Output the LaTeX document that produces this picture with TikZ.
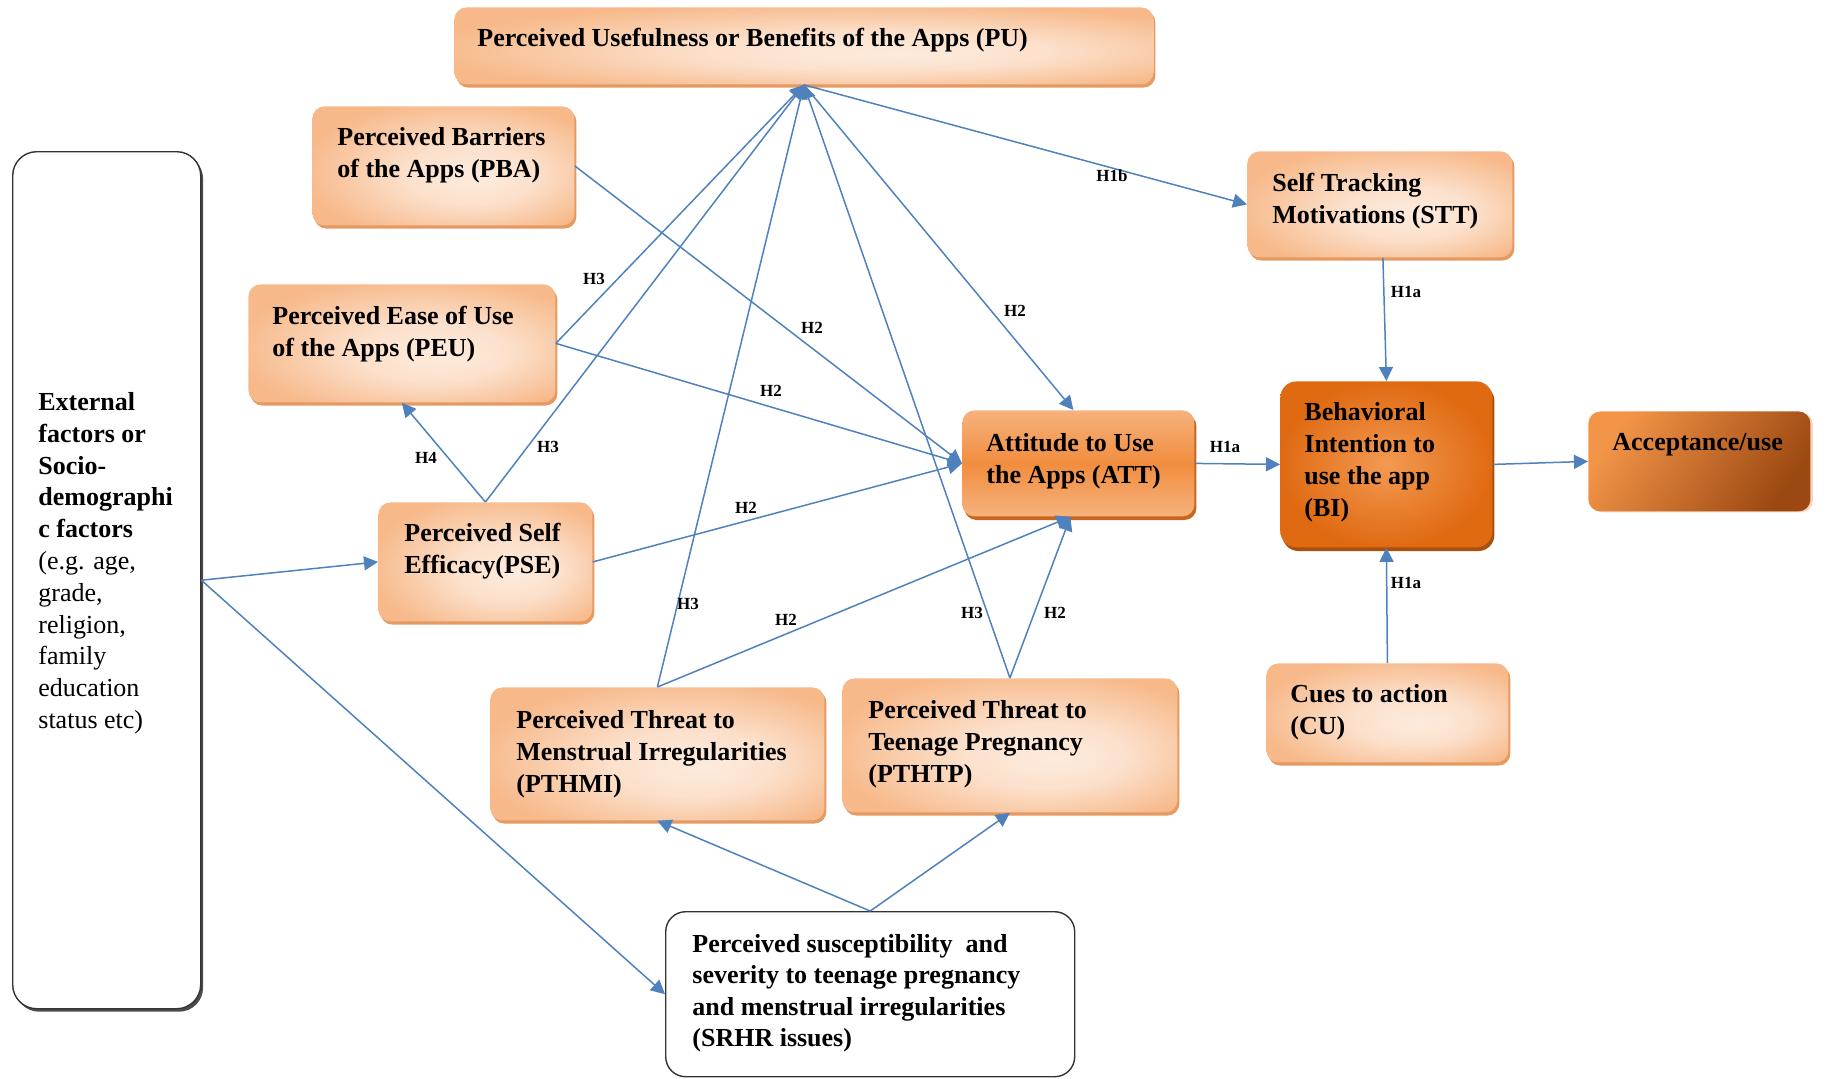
\documentclass[tikz,border=0pt]{standalone}
\usepackage{fontspec}
\setmainfont{Liberation Serif}
\usetikzlibrary{arrows.meta,shadows,calc}

\definecolor{pkD}{HTML}{F7B98A}
\definecolor{pkL}{HTML}{FDEBDD}
\definecolor{pkS}{HTML}{E59A62}
\definecolor{attT}{HTML}{F7B27E}
\definecolor{attM}{HTML}{F18D3E}
\definecolor{attS}{HTML}{C8661E}
\definecolor{biC}{HTML}{F39A52}
\definecolor{biO}{HTML}{E06A12}
\definecolor{biS}{HTML}{A9500E}
\definecolor{acA}{HTML}{F39548}
\definecolor{acB}{HTML}{9C4812}
\definecolor{lineblue}{HTML}{4F81BD}

% light peach fill: broad pale area right of centre, fading to peach at the rim
\pgfdeclareradialshading{peachshade}{\pgfpoint{7bp}{-5bp}}{color(0bp)=(pkL); color(12bp)=(pkL!80!pkD); color(30bp)=(pkD); color(50bp)=(pkD)}
\pgfdeclareverticalshading{attshade}{100bp}{color(0bp)=(attT); color(25bp)=(attT); color(50bp)=(attM); color(75bp)=(attT); color(100bp)=(attT)}
\pgfdeclarehorizontalshading{accshade}{100bp}{color(0bp)=(acA); color(25bp)=(acA); color(75bp)=(acB); color(100bp)=(acB)}

\tikzset{
  lightbox/.style={rounded corners=6pt, shading=peachshade,
    draw=none, inner sep=0pt,
    drop shadow={shadow xshift=1pt, shadow yshift=-1.6pt, fill=pkS, opacity=1}},
  attbox/.style={rounded corners=6pt, shading=attshade, draw=none, inner sep=0pt,
    drop shadow={shadow xshift=1pt, shadow yshift=-1.8pt, fill=attS, opacity=1}},
  bibox/.style={rounded corners=8pt, inner color=biC, outer color=biO, draw=none, inner sep=0pt,
    drop shadow={shadow xshift=1pt, shadow yshift=-1.8pt, fill=biS, opacity=1}},
  accbox/.style={rounded corners=6pt, shading=accshade, shading angle=-35, draw=none, inner sep=0pt,
    drop shadow={shadow xshift=1.2pt, shadow yshift=-0.5pt, fill=pkD!60, opacity=1}},
  extbox/.style={rounded corners=12pt, fill=white, draw=black!80, line width=0.7pt, inner sep=0pt,
    drop shadow={shadow xshift=1.2pt, shadow yshift=-1.5pt, fill=black!70, opacity=1}},
  srbox/.style={rounded corners=10pt, fill=white, draw=black!80, line width=0.7pt, inner sep=0pt},
  txt/.style={inner sep=0pt, align=left, anchor=north west,
    font=\fontsize{13}{16}\selectfont\bfseries},
  exttxt/.style={inner sep=0pt, align=left, anchor=north west,
    font=\fontsize{13}{15.9}\selectfont},
  hlab/.style={inner sep=0pt, font=\fontsize{8.5}{9}\selectfont\bfseries},
  conn/.style={draw=lineblue, line width=0.75pt, -{Triangle[length=7pt,width=7pt]}},
}

\begin{document}
\begin{tikzpicture}[x=0.5pt,y=-0.5pt]
\useasboundingbox (0,0) rectangle (1826,1078);

% ---- boxes ----
\node[extbox, anchor=north west, minimum width=94pt, minimum height=428.5pt] (ext) at (12,151) {};
\node[lightbox, anchor=north west, minimum width=349.5pt, minimum height=38.5pt] (pu) at (454,7) {};
\node[lightbox, anchor=north west, minimum width=131pt, minimum height=59.5pt] (pba) at (312,106) {};
\node[lightbox, anchor=north west, minimum width=153.5pt, minimum height=59pt] (peu) at (248,284) {};
\node[lightbox, anchor=north west, minimum width=107pt, minimum height=59.5pt] (pse) at (378,502) {};
\node[attbox, anchor=north west, minimum width=116pt, minimum height=53pt] (att) at (962,410) {};
\node[bibox, anchor=north west, minimum width=106pt, minimum height=83pt] (bi) at (1280,381) {};
\node[accbox, anchor=north west, minimum width=111pt, minimum height=50pt] (acc) at (1588,411) {};
\node[lightbox, anchor=north west, minimum width=132.5pt, minimum height=53pt] (stt) at (1247,151) {};
\node[lightbox, anchor=north west, minimum width=121pt, minimum height=49.5pt] (cu) at (1266,663) {};
\node[lightbox, anchor=north west, minimum width=167pt, minimum height=66.5pt] (pthmi) at (490,687) {};
\node[lightbox, anchor=north west, minimum width=167.5pt, minimum height=67pt] (pthtp) at (842,678) {};
\node[srbox, anchor=north west, minimum width=204.5pt, minimum height=82.5pt] (srhr) at (665,911) {};

% ---- box texts ----
\node[txt] (puT) at (477,28) {Perceived Usefulness or Benefits of the Apps (PU)};
\node[txt] (pbaT) at (337,127) {Perceived Barriers\\of the Apps (PBA)};
\node[txt] (peuT) at (272,306) {Perceived Ease of Use\\of the Apps (PEU)};
\node[txt] (pseT) at (404,523) {Perceived Self\\Efficacy(PSE)};
\node[txt] (attT) at (986,433) {Attitude to Use\\the Apps (ATT)};
\node[txt] (biT) at (1304,402) {Behavioral\\Intention to\\use the app\\(BI)};
\node[txt] (accT) at (1612,433) {Acceptance/use};
\node[txt] (sttT) at (1272,173) {Self Tracking\\Motivations (STT)};
\node[txt] (cuT) at (1290,684) {Cues to action\\(CU)};
\node[txt] (pthmiT) at (516,710) {Perceived Threat to\\Menstrual Irregularities\\(PTHMI)};
\node[txt] (pthtpT) at (868,700) {Perceived Threat to\\Teenage Pregnancy\\(PTHTP)};
\node[txt, font=\fontsize{13}{15.7}\selectfont\bfseries] (srhrT) at (692,934)
  {Perceived susceptibility~ and\\severity to teenage pregnancy\\and menstrual irregularities\\(SRHR issues)};
\node[exttxt] (extT) at (38,392)
  {\textbf{External}\\\textbf{factors or}\\\textbf{Socio-}\\\textbf{demographi}\\\textbf{c factors}\\(e.g. age,\\grade,\\religion,\\family\\education\\status etc)};

% ---- connectors ----
\draw[conn] (peu.east) -- (pu.south);
\draw[conn] (pse.north) -- (pu.south);
\draw[conn] (pthmi.north) -- (pu.south);
\draw[conn] (pthtp.north) -- (pu.south);
\draw[conn] (pse.north) -- (peu.south);
\draw[conn] (pu.south) -- ($(att.north)+(-5,0)$);
\draw[conn] (pu.south) -- (stt.west);
\draw[conn] (peu.east) -- (att.west);
\draw[conn] (pba.east) -- (att.west);
\draw[conn] (pse.east) -- (att.west);
\draw[conn] (pthmi.north) -- ($(att.south)+(-8,0)$);
\draw[conn] (pthtp.north) -- ($(att.south)+(-8,0)$);
\draw[conn] (att.east) -- (bi.west);
\draw[conn] ($(stt.south)+(3,0)$) -- (bi.north);
\draw[conn] (cu.north) -- (bi.south);
\draw[conn] (bi.east) -- (acc.west);
\draw[conn] (ext.east) -- (pse.west);
\draw[conn] (ext.east) -- (srhr.west);
\draw[conn] (srhr.north) -- (pthmi.south);
\draw[conn] (srhr.north) -- (pthtp.south);

% ---- hypothesis labels ----
\node[hlab] (l1) at (594,279) {H3};
\node[hlab] (l2) at (771,391) {H2};
\node[hlab] (l3) at (812,328) {H2};
\node[hlab] (l4) at (548,447) {H3};
\node[hlab] (l5) at (426,458) {H4};
\node[hlab] (l6) at (1015,311) {H2};
\node[hlab] (l7) at (1112,176) {H1b};
\node[hlab] (l8) at (746,508) {H2};
\node[hlab] (l9) at (688,604) {H3};
\node[hlab] (l10) at (786,620) {H2};
\node[hlab] (l11) at (972,613) {H3};
\node[hlab] (l12) at (1055,613) {H2};
\node[hlab] (l13) at (1225,447) {H1a};
\node[hlab] (l14) at (1406,292) {H1a};
\node[hlab] (l15) at (1406,583) {H1a};
\end{tikzpicture}
\end{document}
